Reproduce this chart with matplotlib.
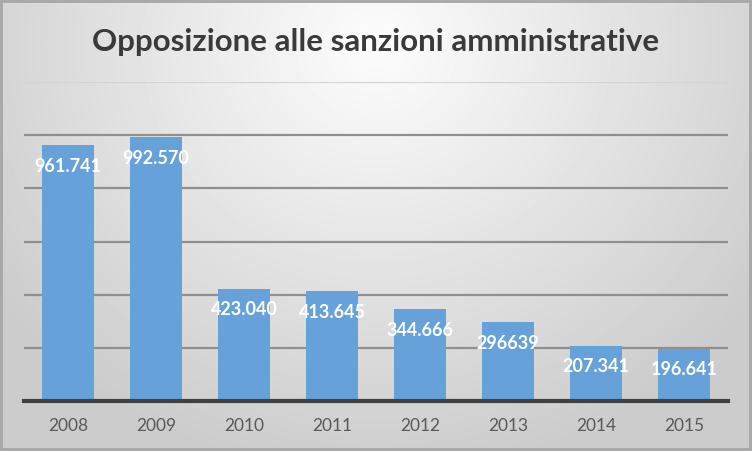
import numpy as np
import matplotlib.pyplot as plt

years = ["2008", "2009", "2010", "2011", "2012", "2013", "2014", "2015"]
values = [961741, 992570, 423040, 413645, 344666, 296639, 207341, 196641]
labels = ["961.741", "992.570", "423.040", "413.645", "344.666", "296639", "207.341", "196.641"]

W, H = 752, 451
fig = plt.figure(figsize=(W / 100, H / 100), dpi=100)

# gradient background (light centre, grey edges)
bg = fig.add_axes([0, 0, 1, 1], zorder=-10)
yy, xx = np.mgrid[0:H, 0:W]
r = np.sqrt(((xx - W * 0.5) / (W * 0.62)) ** 2 + ((yy - H * 0.1) / (H * 0.95)) ** 2)
shade = 0.99 - 0.19 * np.clip(r, 0, 1)
bg.imshow(shade, cmap="gray", vmin=0, vmax=1, aspect="auto", extent=[0, W, H, 0])
bg.add_patch(plt.Rectangle((1, 1), W - 3, H - 3, fill=False, edgecolor="#a6a6a6", lw=2))
bg.set_xlim(0, W)
bg.set_ylim(H, 0)
bg.axis("off")

ax = fig.add_axes([24 / W, 1 - 401 / H, 704 / W, (401 - 82) / H])
ax.patch.set_alpha(0)
x = np.arange(len(years))
ax.bar(x, values, width=0.59, color="#66a2d9", zorder=3)
ax.set_xlim(-0.5, len(years) - 0.5)
ax.set_ylim(0, 1200000)
ax.set_yticks(np.arange(0, 1200001, 200000))
ax.yaxis.grid(True, color="#8f8f8f", lw=1.6, zorder=0)
ax.get_ygridlines()[-1].set_color("#d4d4d4")
ax.tick_params(left=False, labelleft=False, bottom=False)
for s in ["left", "right", "top"]:
    ax.spines[s].set_visible(False)
ax.spines["bottom"].set_color("#404040")
ax.spines["bottom"].set_linewidth(3)
ax.spines["bottom"].set_zorder(4)
ax.set_xticks(x)
ax.set_xticklabels(years, fontsize=12.5, color="#595959", family="Lato")
ax.tick_params(axis="x", pad=9)

for xi, v, lab in zip(x, values, labels):
    ax.annotate(lab, (xi, v), xytext=(0, -21), textcoords="offset pixels",
                ha="center", va="center", color="white", fontsize=13,
                fontweight="bold", family="Lato", zorder=5)

fig.text(0.5, 1 - 42 / H, "Opposizione alle sanzioni amministrative", ha="center", va="center",
         fontsize=22.5, fontweight="bold", color="#3a3a3a", family="Lato")

fig.savefig("out.png", dpi=100)
